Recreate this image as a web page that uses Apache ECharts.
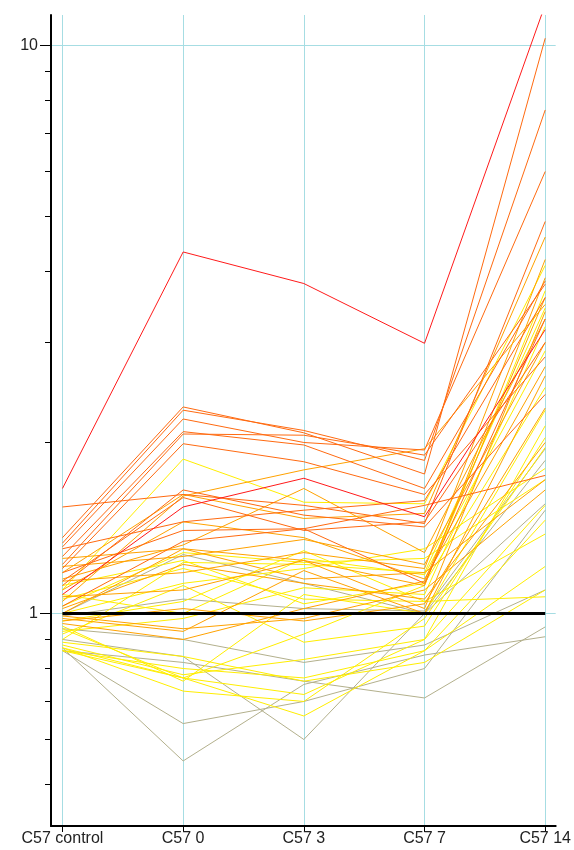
<!DOCTYPE html>
<html>
<head>
<meta charset="utf-8">
<script src="https://cdn.jsdelivr.net/npm/echarts@6/dist/echarts.min.js"></script>
<style>
html,body{margin:0;padding:0;background:#fff;}
#chart{width:574px;height:850px;}
</style>
</head>
<body>
<div id="chart"></div>
<script>
// ---- data ----
const categories = ['C57 control', 'C57 0', 'C57 3', 'C57 7', 'C57 14'];
const majorTicks = [1, 10];
const minorTicks = [0.5, 0.6, 0.7, 0.8, 0.9, 2, 3, 4, 5, 6, 7, 8, 9];
const baseline = [1, 1, 1, 1, 1];

const grayProfiles = [
  [0.87, 0.55, 0.75, 0.845, 0.91],
  [0.86, 0.64, 0.70, 0.80, 1.52],
  [0.90, 0.84, 0.60, 1.00, 1.86],
  [0.86, 0.82, 0.76, 0.71, 0.947],
  [1.00, 1.27, 1.13, 1.00, 1.56],
  [0.94, 0.90, 0.82, 0.88, 1.10],
  [0.99, 1.06, 1.02, 1.01, 1.95]
];
const yellowProfiles = [
  [1.10, 1.87, 1.57, 1.56, 4.1],
  [0.90, 1.23, 1.22, 1.18, 3.45],
  [0.95, 0.76, 1.08, 1.00, 2.28],
  [0.88, 0.78, 0.83, 0.90, 2.14],
  [0.92, 1.12, 0.89, 0.95, 2.04],
  [0.87, 0.73, 0.70, 0.98, 1.96],
  [1.03, 1.28, 1.23, 1.25, 1.72],
  [0.86, 0.77, 0.66, 0.86, 1.46],
  [0.97, 1.05, 1.29, 1.05, 1.38],
  [0.86, 0.80, 0.77, 0.86, 1.21],
  [1.06, 1.20, 1.06, 1.05, 1.07],
  [0.89, 0.84, 0.76, 0.82, 1.10],
  [1.12, 1.24, 1.04, 1.13, 2.5],
  [0.93, 0.98, 1.11, 1.08, 3.2],
  [0.87, 0.77, 0.72, 0.90, 1.55],
  [1.00, 1.13, 1.20, 1.30, 1.80],
  [0.94, 0.77, 0.92, 1.12, 3.7],
  [1.08, 1.00, 1.25, 1.17, 2.9]
];
const orangeProfiles = [
  [1.05, 1.61, 1.79, 1.95, 3.5],
  [1.15, 1.32, 1.66, 1.28, 3.3],
  [1.21, 1.26, 1.35, 1.22, 3.0],
  [0.98, 0.93, 1.19, 1.00, 2.62],
  [1.10, 1.45, 1.36, 1.15, 2.72],
  [1.02, 1.22, 1.13, 1.06, 2.0],
  [0.99, 0.94, 0.98, 1.10, 1.65],
  [1.14, 1.18, 1.28, 1.20, 4.2],
  [1.25, 1.30, 1.24, 1.12, 3.9],
  [1.07, 1.10, 1.24, 1.02, 3.4],
  [0.97, 1.02, 0.97, 1.04, 2.3],
  [1.00, 1.30, 1.15, 1.18, 1.72],
  [1.18, 1.62, 1.47, 1.50, 4.6],
  [0.96, 0.90, 1.02, 1.14, 3.6]
];
const darkOrangeProfiles = [
  [1.36, 2.31, 2.08, 1.76, 10.3],
  [1.33, 2.28, 2.10, 1.86, 7.7],
  [1.31, 2.20, 2.00, 1.94, 6.0],
  [1.54, 1.62, 1.55, 1.44, 4.9],
  [1.26, 2.09, 1.98, 1.66, 3.85],
  [1.22, 2.07, 2.06, 1.90, 3.8],
  [1.20, 1.99, 1.85, 1.62, 2.83],
  [1.12, 1.65, 1.49, 1.42, 2.43],
  [1.18, 1.40, 1.41, 1.55, 1.75],
  [1.30, 1.45, 1.52, 1.58, 3.6],
  [1.03, 1.34, 1.41, 1.13, 3.3],
  [1.14, 1.60, 1.40, 1.45, 3.0]
];
const redProfiles = [
  [1.66, 4.33, 3.81, 2.99, 11.8],
  [1.08, 1.54, 1.73, 1.48, 3.16]
];

// ---- styles ----
const groups = [
  { rows: grayProfiles, color: '#b3b08c' },
  { rows: yellowProfiles, color: '#ffee00' },
  { rows: orangeProfiles, color: '#ffa200' },
  { rows: darkOrangeProfiles, color: '#ff6a10' },
  { rows: redProfiles, color: '#ff1a1a' }
];
const FONT = "'Liberation Sans', Arial, sans-serif";
const GRID_COLOR = '#a6dde3';
const yMin = 0.42250, yMax = 11.316;
const padLeft = 11.5 / 121, padRight = 10.5 / 121;

const series = [];
groups.forEach(g => {
  g.rows.forEach((row, k) => {
    series.push({
      type: 'line',
      name: g.color + k,
      data: row.map((v, i) => [i, v]),
      symbol: 'none',
      clip: true,
      lineStyle: { color: g.color, width: 1 },
      emphasis: { disabled: true },
      z: 2
    });
  });
});
series.push({
  type: 'line',
  name: 'baseline',
  data: baseline.map((v, i) => [i, v]),
  symbol: 'none',
  lineStyle: { color: '#000', width: 3 },
  emphasis: { disabled: true },
  z: 3
});

const chart = echarts.init(document.getElementById('chart'), null, { renderer: 'canvas' });
chart.setOption({
  animation: false,
  backgroundColor: '#fff',
  grid: { left: 51, right: 17, top: 15, bottom: 24, containLabel: false },
  xAxis: {
    type: 'value',
    min: -padLeft,
    max: categories.length - 1 + padRight,
    axisLine: { show: true, onZero: false, lineStyle: { color: '#000', width: 2 } },
    axisTick: { show: true, customValues: categories.map((c, i) => i), length: 6, lineStyle: { color: '#000', width: 1 } },
    axisLabel: {
      show: true,
      customValues: categories.map((c, i) => i),
      formatter: v => categories[Math.round(v)],
      color: '#222', fontSize: 16, fontFamily: FONT, margin: 5
    },
    splitLine: { show: true, lineStyle: { color: GRID_COLOR, width: 1 } }
  },
  yAxis: [
    {
      type: 'log',
      logBase: 10,
      position: 'left',
      min: yMin,
      max: yMax,
      axisLine: { show: true, onZero: false, lineStyle: { color: '#000', width: 2 } },
      axisTick: { show: true, customValues: majorTicks, length: 11, lineStyle: { color: '#000', width: 1 } },
      axisLabel: { show: true, customValues: majorTicks, color: '#222', fontSize: 16, fontFamily: FONT, margin: 13, formatter: v => String(v) },
      splitLine: { show: true, lineStyle: { color: GRID_COLOR, width: 1 } }
    },
    {
      type: 'log',
      logBase: 10,
      position: 'left',
      min: yMin,
      max: yMax,
      axisLine: { show: false, onZero: false },
      axisTick: { show: true, customValues: minorTicks, length: 6, lineStyle: { color: '#000', width: 1 } },
      axisLabel: { show: false },
      splitLine: { show: false }
    }
  ],
  series: series
});
</script>
</body>
</html>
